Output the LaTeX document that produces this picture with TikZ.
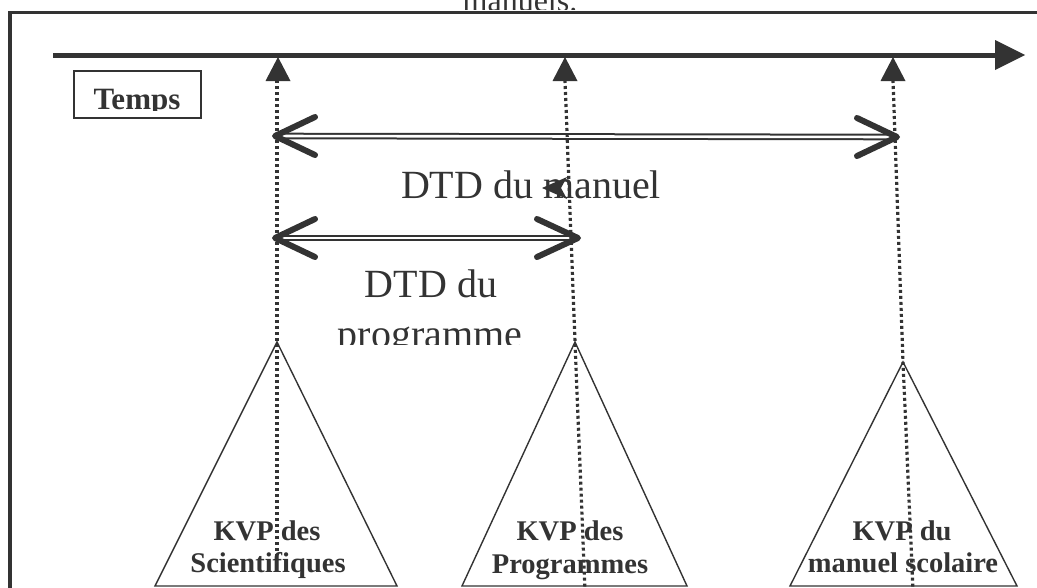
\documentclass[tikz,border=0pt]{standalone}
\usepackage{fontspec}
\setmainfont{Liberation Serif}
\definecolor{ink}{RGB}{51,51,51}
\begin{document}
\begin{tikzpicture}[x=1pt,y=-1pt,
  frameline/.style={draw=ink,line width=3.5pt},
  timeline/.style={draw=ink,line width=5pt},
  headfill/.style={fill=ink,draw=none},
  shaft/.style={draw=ink,double=white,double distance=2.6pt,line width=2pt},
  chev/.style={draw=ink,line width=6pt,line cap=round,line join=round},
  dotline/.style={draw=ink,line width=3.2pt,dash pattern=on 3pt off 3pt},
  tri/.style={draw=ink,line width=1.4pt,line join=miter},
  bigtxt/.style={text=ink,inner sep=0pt,font=\fontsize{40}{50}\selectfont},
  kvptxt/.style={text=ink,inner sep=0pt,font=\fontsize{28.5}{32}\selectfont\bfseries},
  tempsbox/.style={draw=ink,line width=2pt}]
\useasboundingbox (0,0) rectangle (1037,587);
\clip (0,0) rectangle (1037,587);

% outer frame (partly outside the picture)
\draw[frameline] (10,12.5) rectangle (1080,640);

% caption remnant at top
\begin{scope}
  \clip (0,0) rectangle (1037,9.5);
  \node[bigtxt,anchor=base,font=\fontsize{32}{38}\selectfont] (cap) at (520,11) {manuels.};
\end{scope}

% time axis
\coordinate (t0) at (53,55);
\coordinate (t1) at (995,55);
\coordinate (ttip) at (1025,55);
\draw[timeline] (t0) -- (t1);
\fill[headfill] (995,40) -- (ttip) -- (995,70) -- cycle;

% Temps label
\draw[tempsbox] (74,71) rectangle (201,118);
\begin{scope}
  \clip (0,0) rectangle (1037,110.5);
  \node[kvptxt,anchor=base,font=\fontsize{31}{36}\selectfont\bfseries] (temps) at (137,109) {Temps};
\end{scope}

% triangles
\coordinate (apA) at (277,342);
\coordinate (apB) at (575,342);
\coordinate (apC) at (903,362);
\draw[tri] (apA) -- (155,586) -- (397,586) -- cycle;
\draw[tri] (apB) -- (462,586) -- (687,586) -- cycle;
\draw[tri] (apC) -- (790,586) -- (1017,586) -- cycle;

\node[kvptxt,anchor=base] (kA1) at (267,540) {KVP des};
\node[kvptxt,anchor=base] (kA2) at (268,572) {Scientifiques};
\node[kvptxt,anchor=base] (kB1) at (570,540) {KVP des};
\node[kvptxt,anchor=base] (kB2) at (570,573) {Programmes};
\node[kvptxt,anchor=base] (kC1) at (902,540) {KVP du};
\node[kvptxt,anchor=base] (kC2) at (903,572) {manuel scolaire};

% DTD labels
\node[bigtxt,anchor=base] (dtdm) at (531,198) {DTD du manuel};
\node[bigtxt,anchor=base] (dtdp1) at (431,297) {DTD du};
\begin{scope}
  \clip (0,0) rectangle (1037,344);
  \node[bigtxt,anchor=base] (dtdp2) at (430,347) {programme};
\end{scope}
% stray arrowhead over "manuel"
\fill[headfill] (542,188) -- (567,177) -- (561,188) -- (567,199) -- cycle;

% double arrows
\coordinate (m0) at (275,136);
\coordinate (m1) at (897,137);
\coordinate (p0) at (275,238);
\coordinate (p1) at (578,238);
\draw[shaft] (m0) -- (m1);
\draw[shaft] (p0) -- (p1);
\draw[chev] (m0) ++(40,-19) -- (m0) -- ++(40,19);
\draw[chev] (m1) ++(-40,-19) -- (m1) -- ++(-40,19);
\draw[chev] (p0) ++(40,-19) -- (p0) -- ++(40,19);
\draw[chev] (p1) ++(-41,-19) -- (p1) -- ++(-41,19);

% dotted verticals with arrowheads on the axis
\coordinate (hA) at (278,57);
\coordinate (hB) at (565,57);
\coordinate (hC) at (893,57);
\fill[headfill] (hA) -- ++(-12.5,24) -- ++(25,0) -- cycle;
\fill[headfill] (hB) -- ++(-12.5,24) -- ++(25,0) -- cycle;
\fill[headfill] (hC) -- ++(-12.5,24) -- ++(25,0) -- cycle;
\draw[dotline] (277,80) -- (277,555);
\draw[dotline] (565,80) -- (apB) -- (585,590);
\draw[dotline] (893,80) -- (apC) -- (913,590);
\end{tikzpicture}
\end{document}
